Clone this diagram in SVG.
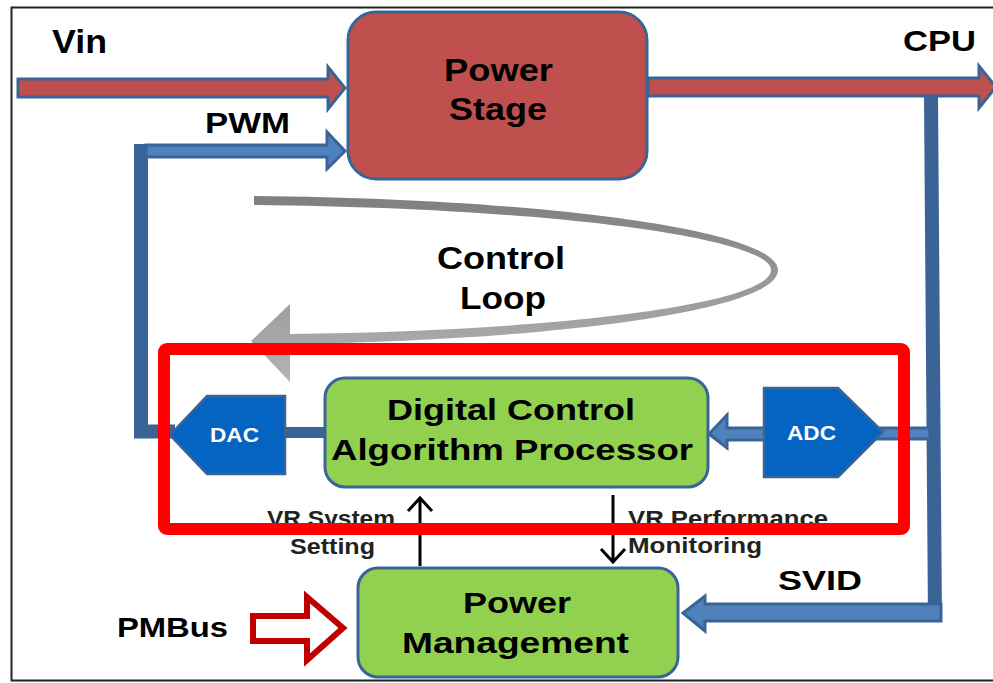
<svg xmlns="http://www.w3.org/2000/svg" width="993" height="683" viewBox="0 0 993 683">
<defs>
<style>
.t{font-family:"Liberation Sans",Arial,sans-serif;font-weight:bold;fill:#000}
.w{fill:#fff}
.s{fill:#222}
.blu{fill:#4f81bd;stroke:#3a6496;stroke-width:3;stroke-linejoin:miter}
.red{fill:#c0504d;stroke:#3a6496;stroke-width:3}
.dk{fill:#3a6496}
.grn{fill:#92d050;stroke:#3a6496;stroke-width:3}
.conv{fill:#0563c1;stroke:#3a6496;stroke-width:2.5}
.thin{fill:none;stroke:#000;stroke-width:3}
</style>
<linearGradient id="gl" x1="0" y1="0" x2="0" y2="1">
<stop offset="0" stop-color="#7f7f7f"/>
<stop offset="1" stop-color="#b4b4b4"/>
</linearGradient>
</defs>
<rect x="0" y="0" width="993" height="683" fill="#fff"/>
<rect x="11.5" y="7.5" width="990" height="673" fill="none" stroke="#222" stroke-width="2"/>

<g id="connectors">
<!-- Vin -->
<polygon class="red" points="18,79 328,79 328,67 345,88 328,109 328,97 18,97"/>
<!-- CPU -->
<polygon class="red" points="648,78 979,78 979,66 996,87 979,108 979,96 648,96"/>
<!-- vertical from CPU line to SVID -->
<polygon class="dk" points="924,96 938,96 942,622 928,622"/>
<!-- SVID arrow -->
<polygon class="blu" points="941,604 705,604 705,596 683,613 705,631 705,621 941,621"/>
<!-- ADC to vertical -->
<rect class="blu" x="876" y="428" width="54" height="11" stroke-width="2"/>
<!-- ADC to Digital -->
<polygon class="blu" stroke-width="2" points="766,428 727,428 727,415 709,434 727,448 727,440 766,440"/>
<!-- DAC to Digital -->
<rect class="dk" x="283" y="427" width="43" height="11"/>
<!-- PWM feedback -->
<path d="M175,431.5 H141 V151 H150" fill="none" stroke="#3a6496" stroke-width="14"/>
<polygon class="blu" points="146,145 327,145 327,132 345,151 327,169 327,157 146,157"/>
<!-- Control loop gray arrow -->
<path fill="url(#gl)" d="M254,196 C560,199 778,232 778,270 C778,310 560,340 290,344 L290,382 L251,341 L290,304 L290,334 C560,331 771,304 771,270 C771,239 560,208 254,205 Z"/>
<!-- VR System Setting arrow (up) -->
<path class="thin" d="M420,566 V498 M408,511 L420,498 L432,511"/>
<!-- VR Performance Monitoring arrow (down) -->
<path class="thin" d="M613,495 V562 M601,549 L613,562 L625,549"/>
<!-- PMBus arrow -->
<polygon points="253,616 307,616 307,597 343,628 307,660 307,641 253,641" fill="#fff" stroke="#c00000" stroke-width="6"/>
</g>

<g id="power-stage">
<rect class="red" x="348" y="12" width="299" height="167" rx="28"/>
<text class="t" x="444" y="81" font-size="32" textLength="109" lengthAdjust="spacingAndGlyphs">Power</text>
<text class="t" x="449" y="120" font-size="32" textLength="98" lengthAdjust="spacingAndGlyphs">Stage</text>
</g>

<g id="labels">
<text class="t" x="52" y="53" font-size="34" textLength="55" lengthAdjust="spacingAndGlyphs">Vin</text>
<text class="t" x="205" y="133" font-size="29" textLength="85" lengthAdjust="spacingAndGlyphs">PWM</text>
<text class="t" x="903" y="51" font-size="30" textLength="73" lengthAdjust="spacingAndGlyphs">CPU</text>
<text class="t" x="437" y="269" font-size="31" textLength="128" lengthAdjust="spacingAndGlyphs">Control</text>
<text class="t" x="460" y="309" font-size="31" textLength="86" lengthAdjust="spacingAndGlyphs">Loop</text>
<text class="t" x="778" y="590" font-size="28" textLength="84" lengthAdjust="spacingAndGlyphs">SVID</text>
<text class="t" x="117" y="637" font-size="28" textLength="111" lengthAdjust="spacingAndGlyphs">PMBus</text>
<text class="t s" x="267" y="526" font-size="22" textLength="128" lengthAdjust="spacingAndGlyphs">VR System</text>
<text class="t s" x="290" y="554" font-size="22" textLength="85" lengthAdjust="spacingAndGlyphs">Setting</text>
<text class="t s" x="628" y="526" font-size="22" textLength="200" lengthAdjust="spacingAndGlyphs">VR Performance</text>
<text class="t s" x="628" y="553" font-size="22" textLength="134" lengthAdjust="spacingAndGlyphs">Monitoring</text>
</g>

<g id="dac">
<polygon class="conv" points="170,435 207,396 285,396 285,474 207,474"/>
<text class="t w" x="210" y="442" font-size="20" textLength="49" lengthAdjust="spacingAndGlyphs">DAC</text>
</g>

<g id="adc">
<polygon class="conv" points="764,388 838,388 883,432 838,477 764,477"/>
<text class="t w" x="787" y="440" font-size="20" textLength="49" lengthAdjust="spacingAndGlyphs">ADC</text>
</g>

<g id="digital-control">
<rect class="grn" x="325" y="378" width="383" height="109" rx="20"/>
<text class="t" x="387" y="420" font-size="30" textLength="248" lengthAdjust="spacingAndGlyphs">Digital Control</text>
<text class="t" x="331" y="460" font-size="30" textLength="362" lengthAdjust="spacingAndGlyphs">Algorithm Processor</text>
</g>

<g id="power-management">
<rect class="grn" x="358" y="568" width="320" height="109" rx="20"/>
<text class="t" x="463" y="613" font-size="29" textLength="108" lengthAdjust="spacingAndGlyphs">Power</text>
<text class="t" x="402" y="653" font-size="29" textLength="227" lengthAdjust="spacingAndGlyphs">Management</text>
</g>

<g id="highlight">
<rect x="164" y="349" width="740" height="180" rx="3" fill="none" stroke="#ff0000" stroke-width="12"/>
</g>
</svg>
